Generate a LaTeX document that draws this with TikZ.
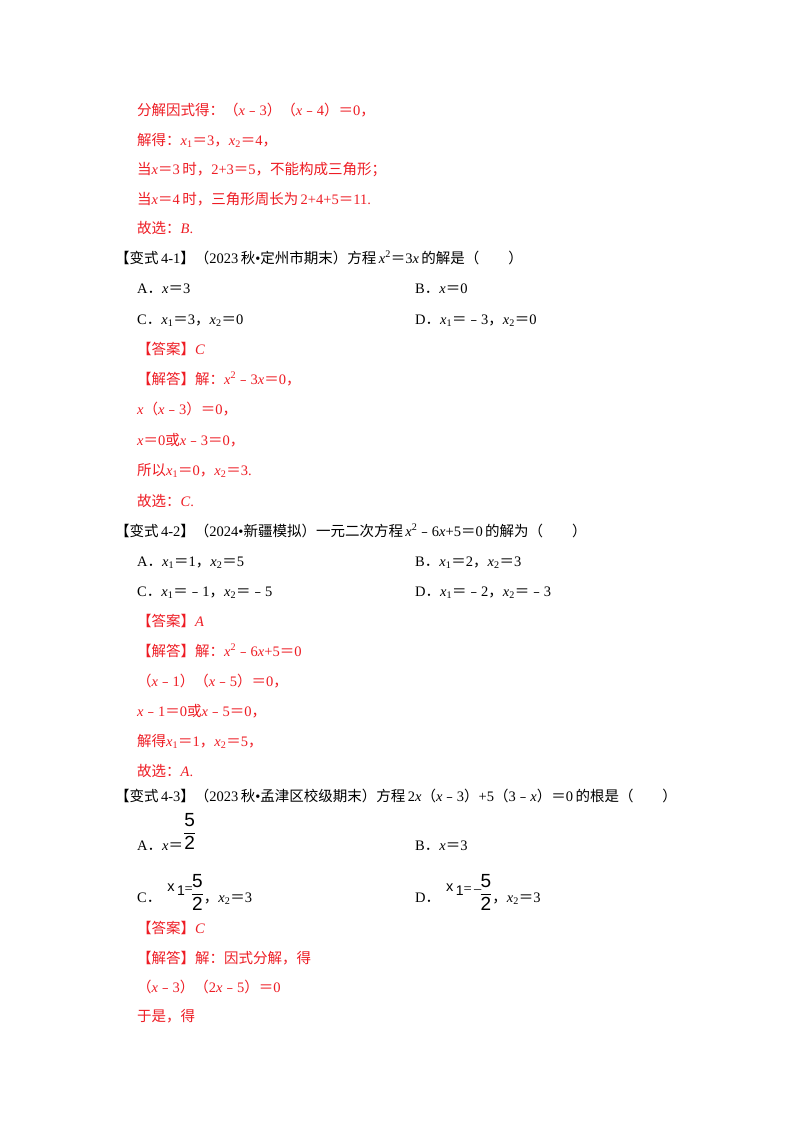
\documentclass[tikz,border=0pt]{standalone}
\usepackage{amsmath}
\usepackage{fontspec}
\setmainfont{Liberation Serif}
\setsansfont{Liberation Sans}
\newfontfamily\cjk{Noto Sans CJK SC}
\usepackage{xcolor}
\definecolor{ansred}{RGB}{238,28,36}
\newcommand{\z}[1]{{\cjk #1}}
\newcommand{\xv}{\textit{x}}
\newcommand{\xs}[1]{\textit{x}\textsubscript{#1}}
\newcommand{\fr}{\raisebox{3pt}{\fontsize{19}{20}\selectfont$\dfrac{\textsf{5}}{\textsf{2}}$}}
\newcommand{\xone}{\raisebox{11pt}{\textsf{x\,\textsubscript{\fontsize{14}{14}\selectfont 1}\,}}}

\tikzset{
  line/.style={anchor=base west, inner sep=0pt, font=\fontsize{14.5}{17}\selectfont},
  ans/.style={line, text=ansred},
}

\begin{document}
\begin{tikzpicture}[x=1pt, y=-1pt]
\useasboundingbox[fill=white] (0,0) rectangle (800,1132);

% end of previous solution
\node[ans] (s1) at (137,115) {\z{分解因式得：（}\xv\z{﹣}3\z{）（}\xv\z{﹣}4\z{）＝}0\z{，}};
\node[ans] (s2) at (137,145) {\z{解得：}\xs{1}\z{＝}3\z{，}\xs{2}\z{＝}4\z{，}};
\node[ans] (s3) at (137,174) {\z{当}\xv\z{＝}3\,\z{时，}2+3\z{＝}5\z{，不能构成三角形；}};
\node[ans] (s4) at (137,204) {\z{当}\xv\z{＝}4\,\z{时，三角形周长为}\,2+4+5\z{＝}11.};
\node[ans] (s5) at (137,233) {\z{故选：}\textit{B}.};

% variant 4-1
\node[line] (q1) at (115,263) {\z{【变式}\,4-1\z{】（}2023\,\z{秋}•\z{定州市期末）方程}\,\xv\textsuperscript{2}\z{＝}3\xv\,\z{的解是（\quad\quad）}};
\node[line] (q1a) at (137,293) {A\z{．}\xv\z{＝}3};
\node[line] (q1b) at (415,293) {B\z{．}\xv\z{＝}0};
\node[line] (q1c) at (137,324) {C\z{．}\xs{1}\z{＝}3\z{，}\xs{2}\z{＝}0};
\node[line] (q1d) at (415,324) {D\z{．}\xs{1}\z{＝﹣}3\z{，}\xs{2}\z{＝}0};
\node[ans] (a1) at (137,354) {\z{【答案】}\textit{C}};
\node[ans] (a1s) at (137,384) {\z{【解答】解：}\xv\textsuperscript{2}\z{﹣}3\xv\z{＝}0\z{，}};
\node[ans] (a1t) at (137,414) {\xv\z{（}\xv\z{﹣}3\z{）＝}0\z{，}};
\node[ans] (a1u) at (137,445) {\xv\z{＝}0\z{或}\xv\z{﹣}3\z{＝}0\z{，}};
\node[ans] (a1v) at (137,475) {\z{所以}\xs{1}\z{＝}0\z{，}\xs{2}\z{＝}3.};
\node[ans] (a1w) at (137,506) {\z{故选：}\textit{C}.};

% variant 4-2
\node[line] (q2) at (115,536) {\z{【变式}\,4-2\z{】（}2024•\z{新疆模拟）一元二次方程}\,\xv\textsuperscript{2}\z{﹣}6\xv+5\z{＝}0\,\z{的解为（\quad\quad）}};
\node[line] (q2a) at (137,566) {A\z{．}\xs{1}\z{＝}1\z{，}\xs{2}\z{＝}5};
\node[line] (q2b) at (415,566) {B\z{．}\xs{1}\z{＝}2\z{，}\xs{2}\z{＝}3};
\node[line] (q2c) at (137,596) {C\z{．}\xs{1}\z{＝﹣}1\z{，}\xs{2}\z{＝﹣}5};
\node[line] (q2d) at (415,596) {D\z{．}\xs{1}\z{＝﹣}2\z{，}\xs{2}\z{＝﹣}3};
\node[ans] (a2) at (137,626) {\z{【答案】}\textit{A}};
\node[ans] (a2s) at (137,656) {\z{【解答】解：}\xv\textsuperscript{2}\z{﹣}6\xv+5\z{＝}0};
\node[ans] (a2t) at (137,686) {\z{（}\xv\z{﹣}1\z{）（}\xv\z{﹣}5\z{）＝}0\z{，}};
\node[ans] (a2u) at (137,716) {\xv\z{﹣}1\z{＝}0\z{或}\xv\z{﹣}5\z{＝}0\z{，}};
\node[ans] (a2v) at (137,746) {\z{解得}\xs{1}\z{＝}1\z{，}\xs{2}\z{＝}5\z{，}};
\node[ans] (a2w) at (137,776) {\z{故选：}\textit{A}.};

% variant 4-3
\node[line] (q3) at (115,801) {\z{【变式}\,4-3\z{】（}2023\,\z{秋}•\z{孟津区校级期末）方程}\,2\xv\z{（}\xv\z{﹣}3\z{）}+5\z{（}3\z{﹣}\xv\z{）＝}0\,\z{的根是（\quad\quad）}};
\node[line] (q3a) at (137,850) {A\z{．}\xv\z{＝}\raisebox{9pt}{\fr}};
\node[line] (q3b) at (415,850) {B\z{．}\xv\z{＝}3};
\node[line] (q3c) at (137,902) {C\z{．}\hspace{6pt}\xone\hspace{-3pt}\raisebox{9pt}{=}\hspace{-2pt}\fr\z{，}\xs{2}\z{＝}3};
\node[line] (q3d) at (415,902) {D\z{．}\hspace{6pt}\xone\hspace{-3pt}\raisebox{9pt}{=\,--}\hspace{-2pt}\fr\z{，}\xs{2}\z{＝}3};
\node[ans] (a3) at (137,933) {\z{【答案】}\textit{C}};
\node[ans] (a3s) at (137,963) {\z{【解答】解：因式分解，得}};
\node[ans] (a3t) at (137,992) {\z{（}\xv\z{﹣}3\z{）（}2\xv\z{﹣}5\z{）＝}0};
\node[ans] (a3u) at (137,1021) {\z{于是，得}};
\end{tikzpicture}
\end{document}
